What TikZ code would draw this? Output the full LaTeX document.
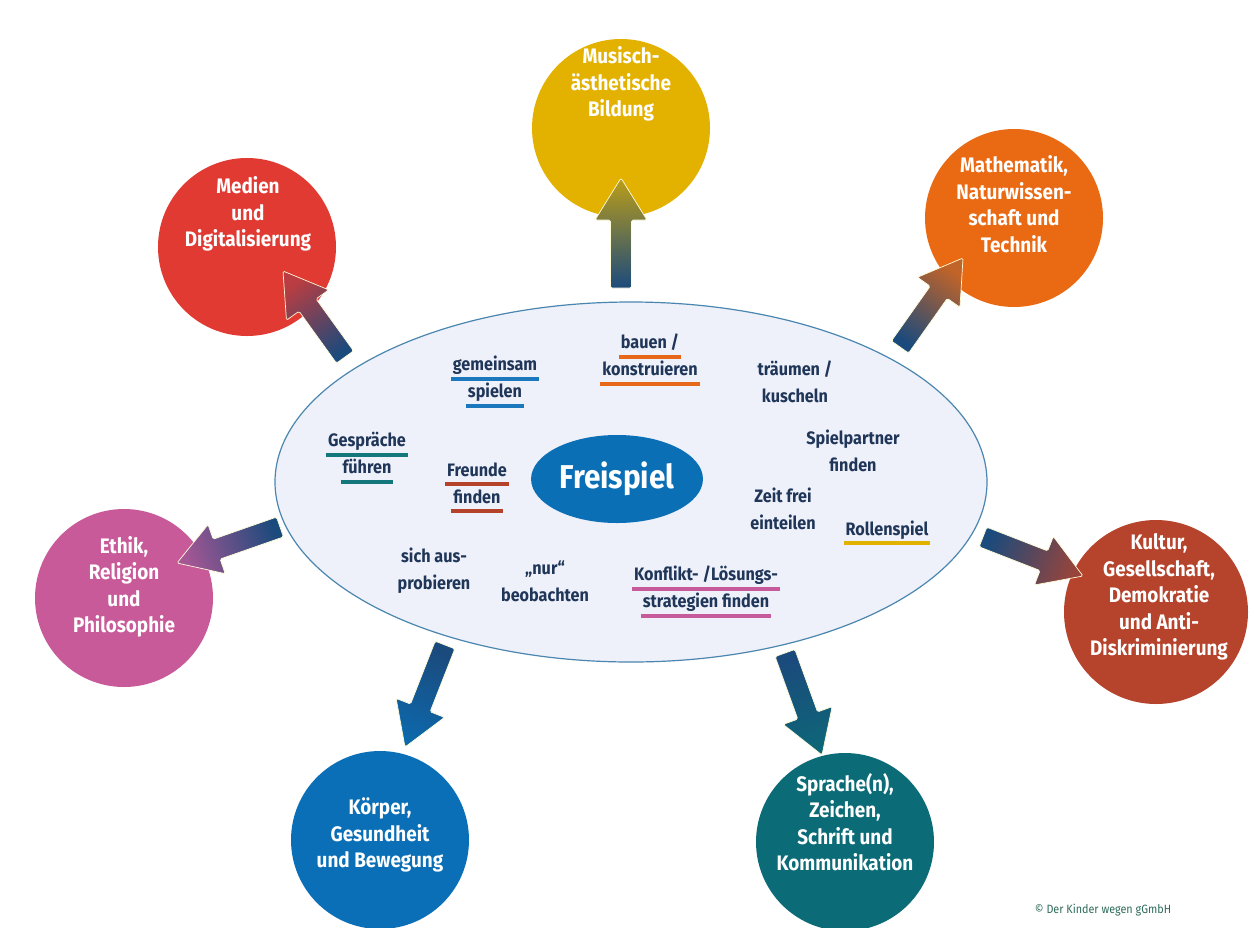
\documentclass[tikz,border=0pt]{standalone}
\usepackage{fontspec}
\setmainfont{Fira Sans}[FakeStretch=0.9]
\usetikzlibrary{calc,shapes.geometric}

\definecolor{musik}{HTML}{E3B200}
\definecolor{medien}{HTML}{E03A33}
\definecolor{mathe}{HTML}{EA6A14}
\definecolor{ethik}{HTML}{C85A9A}
\definecolor{kultur}{HTML}{B6432B}
\definecolor{koerper}{HTML}{0A6FB6}
\definecolor{sprache}{HTML}{0B6C77}
\definecolor{navytext}{HTML}{1F3658}
\definecolor{arrownavy}{HTML}{1B4A7C}
\definecolor{ellfill}{HTML}{EEF0FA}
\definecolor{ellborder}{HTML}{4A86AE}
\definecolor{freiblue}{HTML}{0B6FB5}
\definecolor{ulblue}{HTML}{1B78BD}
\definecolor{ulorange}{HTML}{E8681A}
\definecolor{ulteal}{HTML}{13777C}
\definecolor{ulred}{HTML}{B5432B}
\definecolor{ulyellow}{HTML}{E3B200}
\definecolor{ulpink}{HTML}{C65A9B}
\definecolor{copytext}{HTML}{2E6B5A}

% underlined word
\newcommand{\uln}[2]{\begingroup\setbox0=\hbox{#2}%
  \hbox{\rlap{\kern-2pt\textcolor{#1}{\rule[-10pt]{\dimexpr\wd0+4pt\relax}{4pt}}}\box0}\endgroup}

% block arrow from tail #1 to tip #2
\newcommand{\blockarrow}[3]{%
  \pgfmathanglebetweenpoints{\pgfpointanchor{#1}{center}}{\pgfpointanchor{#2}{center}}%
  \pgfmathsetmacro{\arrowang}{\pgfmathresult-90}%
  \coordinate (sh) at ($(#2)!42pt!(#1)$);
  \draw[arrowbody, top color=#3!80!arrownavy, bottom color=arrownavy, shading angle=\arrowang]
    ($(#1)!10.5pt!90:(#2)$) -- ($(sh)!10.5pt!-90:(#1)$) -- ($(sh)!26pt!-90:(#1)$) -- (#2)
    -- ($(sh)!26pt!90:(#1)$) -- ($(sh)!10.5pt!90:(#1)$) -- ($(#1)!10.5pt!-90:(#2)$) -- cycle;
}

\begin{document}
\begin{tikzpicture}[x=1pt,y=-1pt,
  area/.style={circle,minimum size=178pt,inner sep=0pt},
  areatext/.style={align=center,text=white,font=\bfseries\fontsize{21}{26.5}\selectfont},
  idea/.style={align=center,text=navytext,font=\bfseries\fontsize{18}{27}\selectfont},
  arrowbody/.style={draw=white!85!yellow,line width=0.7pt,rounded corners=1.5pt}]

\useasboundingbox (0,0) rectangle (1258,927);

% areas
\node[area,fill=musik] (musik) at (621,128) {};
\node[area,fill=medien] (medien) at (247,247) {};
\node[area,fill=mathe] (mathe) at (1014,218) {};
\node[area,fill=ethik] (ethik) at (124,598) {};
\node[area,fill=kultur,minimum size=184pt] (kultur) at (1156,612) {};
\node[area,fill=koerper] (koerper) at (380,840) {};
\node[area,fill=sprache] (sprache) at (845,842) {};

\node[areatext] (musiktxt) at (621,84) {Musisch-\\ästhetische\\Bildung};
\node[areatext] (medientxt) at (248,214) {Medien\\und\\Digitalisierung};
\node[areatext] (mathetxt) at (1014,204) {Mathematik,\\Naturwissen-\\schaft und\\Technik};
\node[areatext] (ethiktxt) at (124,587) {Ethik,\\Religion\\und\\Philosophie};
\node[areatext] (kulturtxt) at (1159,597) {Kultur,\\Gesellschaft,\\Demokratie\\und Anti-\\Diskriminierung};
\node[areatext] (koerpertxt) at (380,835) {Körper,\\Gesundheit\\und Bewegung};
\node[areatext] (sprachetxt) at (845,822) {Sprache(n),\\Zeichen,\\Schrift und\\Kommunikation};

% centre
\node[ellipse,draw=ellborder,line width=1.2pt,fill=ellfill,minimum width=712pt,minimum height=360pt] (spiel) at (631,482) {};
\node[ellipse,fill=freiblue,minimum width=166pt,minimum height=88pt,text=white,
  font=\bfseries\fontsize{33}{36}\selectfont] (frei) at (617,479) {Freispiel};

\node[idea] (gemeinsam) at (495,382) {\uln{ulblue}{gemeinsam}\\\uln{ulblue}{spielen}};
\node[idea] (bauen) at (650,360) {\uln{ulorange}{bauen /}\\\uln{ulorange}{konstruieren}};
\node[idea] (traeumen) at (795,382) {träumen /\\kuscheln};
\node[idea] (gespraeche) at (367,458) {\uln{ulteal}{Gespräche}\\\uln{ulteal}{führen}};
\node[idea] (freunde) at (477,488) {\uln{ulred}{Freunde}\\\uln{ulred}{finden}};
\node[idea] (partner) at (853,451) {Spielpartner\\finden};
\node[idea] (zeit) at (783,509) {Zeit frei\\einteilen};
\node[idea] (rollen) at (887,533) {\uln{ulyellow}{Rollenspiel}};
\node[idea] (probieren) at (434,571) {sich aus-\\probieren};
\node[idea] (beobachten) at (545,581) {„nur“\\beobachten};
\node[idea] (konflikt) at (706,592) {\uln{ulpink}{Konflikt- /Lösungs-}\\\uln{ulpink}{strategien finden}};

% arrows
\coordinate (t1) at (621,288); \coordinate (h1) at (621,178);
\coordinate (t2) at (345,357); \coordinate (h2) at (283,271);
\coordinate (t3) at (900,347); \coordinate (h3) at (963,258);
\coordinate (t4) at (280,527); \coordinate (h4) at (177,563);
\coordinate (t5) at (983,537); \coordinate (h5) at (1083,576);
\coordinate (t6) at (445,645); \coordinate (h6) at (405,747);
\coordinate (t7) at (785,653); \coordinate (h7) at (822,755);
\blockarrow{t1}{h1}{musik}
\blockarrow{t2}{h2}{medien}
\blockarrow{t3}{h3}{mathe}
\blockarrow{t4}{h4}{ethik}
\blockarrow{t5}{h5}{kultur}
\blockarrow{t6}{h6}{koerper}
\blockarrow{t7}{h7}{sprache}

\node[text=copytext,font=\fontsize{12}{14}\selectfont] (copy) at (1103,910) {© Der Kinder wegen gGmbH};
\end{tikzpicture}
\end{document}
